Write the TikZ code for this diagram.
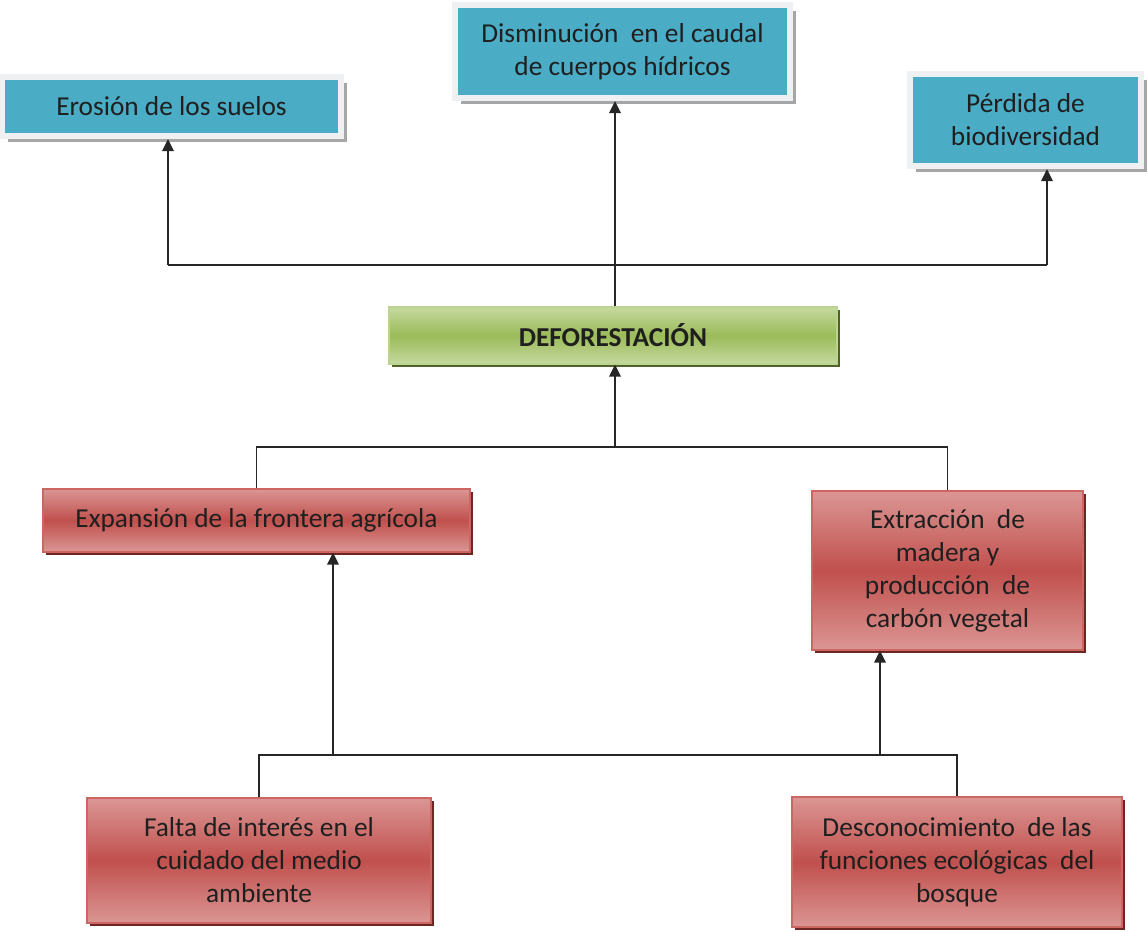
\documentclass[tikz,border=0pt]{standalone}
\usepackage{fontspec}
\setmainfont{Carlito}
\usetikzlibrary{arrows.meta,shadows}

\definecolor{azul}{RGB}{75,172,198}
\definecolor{marco}{RGB}{238,240,241}
\definecolor{verdeclaro}{RGB}{198,217,160}
\definecolor{verde}{RGB}{155,187,89}
\definecolor{verdeoscuro}{RGB}{79,98,40}
\definecolor{rojoclaro}{RGB}{219,150,148}
\definecolor{rojo}{RGB}{192,80,77}
\definecolor{rojooscuro}{RGB}{110,38,36}
\definecolor{rojoborde}{RGB}{204,102,99}

\tikzset{
	caja/.style={rectangle, inner sep=0pt, align=center, text=black!88,
		font=\fontsize{20.5}{24.75}\selectfont},
	efecto/.style={caja, fill=azul, draw=marco, line width=4.5pt,
		drop shadow={shadow xshift=4.5pt, shadow yshift=-4.5pt, fill=gray!70, opacity=1}},
	raiz/.style={caja, top color=verdeclaro, bottom color=verdeclaro, middle color=verde,
		draw=verdeclaro!80!verde, line width=0.8pt,
		drop shadow={shadow xshift=2.5pt, shadow yshift=-2.5pt, fill=verdeoscuro, opacity=1}},
	causa/.style={caja, top color=rojoclaro, bottom color=rojoclaro, middle color=rojo,
		draw=rojoborde, line width=0.8pt,
		drop shadow={shadow xshift=2.5pt, shadow yshift=-2.5pt, fill=rojooscuro, opacity=1}},
	linea/.style={line width=1.3pt, black!85},
	flecha/.style={linea, -{Triangle[length=9pt,width=8.5pt]}}
}

\begin{document}
\begin{tikzpicture}[x=0.75pt,y=-0.75pt]
	\useasboundingbox (0,0) rectangle (1148,931);

	% efectos
	\node[efecto, minimum width=254.25pt, minimum height=44.25pt] (eros) at (171.5,106.5) {Erosión de los suelos};
	\node[efecto, minimum width=251.25pt, minimum height=69.75pt] (dism) at (622.5,51.5) {Disminución \ en el caudal\\de cuerpos hídricos};
	\node[efecto, minimum width=173.25pt, minimum height=69pt] (perd) at (1025.5,120) {Pérdida de\\biodiversidad};

	% problema central
	\node[raiz, minimum width=336pt, minimum height=42.75pt] (def) at (613,335.5) {\bfseries DEFORESTACIÓN};

	% causas
	\node[causa, minimum width=320.25pt, minimum height=47.25pt] (expan) at (256.5,520.5) {Expansión de la frontera agrícola};
	\node[causa, minimum width=203.25pt, minimum height=119.25pt] (extr) at (947.5,570.5) {Extracción \ de\\madera y\\producción \ de\\carbón vegetal};
	\node[causa, minimum width=258pt, minimum height=93.75pt] (falta) at (259,860.5) {Falta de interés en el\\cuidado del medio\\ambiente};
	\node[causa, minimum width=247.5pt, minimum height=97.5pt] (desc) at (957,862) {Desconocimiento \ de las\\funciones ecológicas \ del\\bosque};

	% conectores superiores
	\coordinate (sup) at (615,265);
	\coordinate (barizq) at (168,265);
	\coordinate (barder) at (1047,265);
	\draw[linea] (barizq) -- (barder);
	\draw[flecha] (def.north -| sup) -- (sup |- dism.south);
	\draw[flecha] (barizq) -- (barizq |- eros.south);
	\draw[flecha] (barder) -- (barder |- perd.south);

	% conectores medios
	\coordinate (medio) at (615,447);
	\draw[linea] (expan.north) |- (medio) -| (extr.north);
	\draw[flecha] (medio) -- (medio |- def.south);

	% conectores inferiores
	\coordinate (fexp) at (333,755);
	\coordinate (fext) at (880,755);
	\draw[linea] (falta.north) |- (fexp) -- (fext) -| (desc.north);
	\draw[flecha] (fexp) -- (fexp |- expan.south);
	\draw[flecha] (fext) -- (fext |- extr.south);
\end{tikzpicture}
\end{document}
